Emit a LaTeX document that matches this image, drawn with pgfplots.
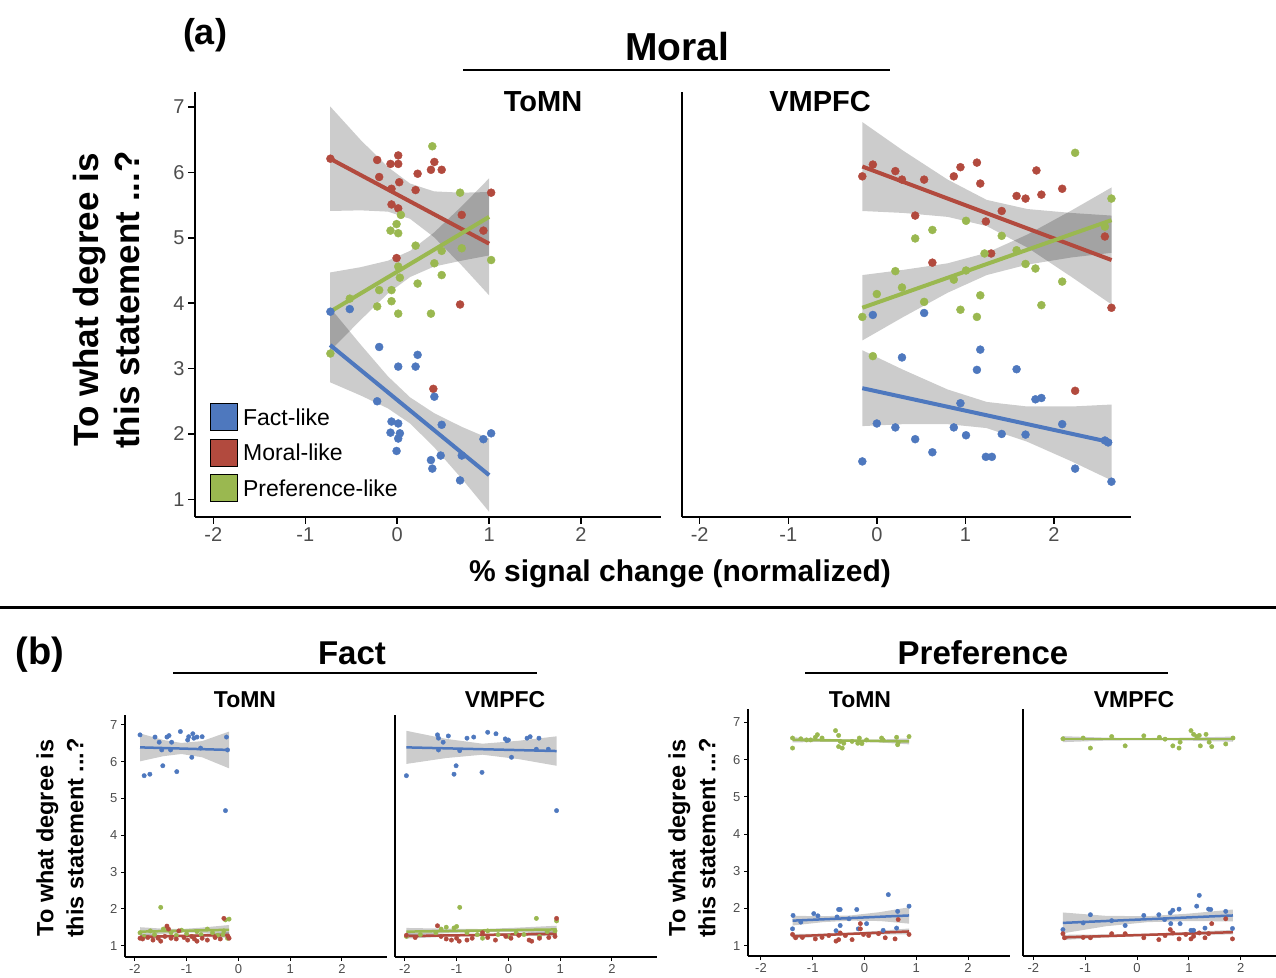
\documentclass[border=0pt]{standalone}
\usepackage{pgfplots}
\pgfplotsset{compat=1.18}
\usepackage{fontspec}
\setmainfont{Liberation Sans}
\definecolor{cb}{RGB}{78,120,190}
\definecolor{cr}{RGB}{178,74,62}
\definecolor{cg}{RGB}{154,184,80}
\definecolor{tk}{RGB}{77,77,77}
\pgfplotsset{
  base/.style={scale only axis, anchor=south west, axis x line*=bottom, axis y line*=left, clip=false,
    xtick={-2,-1,0,1,2}, xticklabels={-2,-1,0,1,2}, ytick={1,2,3,4,5,6,7}, yticklabels={1,2,3,4,5,6,7},
    tick align=outside},
  bigA/.style={base, axis line style={line width=2.5pt,black}, tick style={line width=1.5pt,black},
    major tick length=7pt, ticklabel style={font=\fontsize{20}{20}\selectfont, text=tk},
    xmin=-2.2, xmax=2.87, ymin=0.73, ymax=7.23, height=425pt},
  smallB/.style={base, axis line style={line width=1.5pt,black}, tick style={line width=1pt,black},
    major tick length=4pt, ticklabel style={font=\fontsize{13}{13}\selectfont, text=tk}},
  pts/.style={only marks, mark=*, mark size=4pt, color=#1, mark options={solid, fill=#1, draw=#1}, forget plot},
  ptsb/.style={only marks, mark=*, mark size=2.2pt, color=#1, mark options={solid, fill=#1, draw=#1}, forget plot},
  band/.style={draw=none, fill=black, fill opacity=0.2, forget plot},
  fitA/.style={line width=4pt, color=#1, no marks, forget plot},
  fitB/.style={line width=2.5pt, color=#1, no marks, forget plot},
}
\begin{document}
\begin{tikzpicture}
\path[use as bounding box] (0pt,0pt) rectangle (1276pt,977pt);
%================ (a) ToMN
\begin{axis}[bigA, at={(195pt,460pt)}, width=466pt,
  legend image code/.code={\fill[#1] (0pt,-12.5pt) rectangle (27pt,14.5pt);},
  legend style={at={(axis cs:-2.04,2.47)}, anchor=north west, draw=none, fill=none,
    inner sep=0pt, outer sep=0pt, row sep=8pt, column sep=6pt,
    font=\fontsize{23}{23}\selectfont, nodes={inner sep=0pt, outer sep=0pt}},
  legend cell align=left]
\addplot[pts=cr] coordinates {(-0.727,6.21)(-0.218,6.19)(-0.196,5.93)(-0.073,6.13)(0.011,6.26)(0.011,6.13)(0.022,5.85)(-0.062,5.75)(0.2,5.73)(0.222,5.98)(0.367,6.04)(0.404,6.16)(0.484,6.04)(-0.062,5.51)(0.011,5.45)(0.702,5.35)(0.938,5.11)(1.022,5.69)(-0.007,4.69)(0.684,3.98)(0.393,2.69)};
\addplot[pts=cg] coordinates {(0.382,6.40)(0.684,5.69)(0.04,5.35)(-0.007,5.21)(-0.073,5.11)(0.011,5.07)(0.2,4.88)(0.484,4.80)(0.702,4.84)(0.404,4.61)(1.022,4.66)(0.011,4.56)(0.029,4.39)(0.484,4.43)(0.222,4.30)(-0.196,4.20)(-0.062,4.20)(-0.516,4.07)(-0.062,4.03)(-0.218,3.95)(0.011,3.84)(0.367,3.84)(-0.727,3.23)};
\addplot[pts=cb] coordinates {(-0.727,3.87)(-0.516,3.91)(-0.196,3.33)(0.222,3.21)(0.011,3.03)(0.2,3.03)(0.404,2.57)(-0.218,2.50)(-0.062,2.19)(0.011,2.16)(-0.073,2.02)(0.029,2.01)(0.011,1.93)(0.484,2.14)(-0.007,1.74)(0.367,1.60)(0.382,1.47)(0.473,1.67)(0.702,1.67)(0.684,1.29)(0.938,1.92)(1.022,2.01)};
\addplot[band] coordinates {(-0.73,7.01)(-0.4,6.50)(-0.1,6.08)(0.14,5.83)(0.4,5.71)(0.7,5.69)(1.0,5.70)(1.0,4.12)(0.7,4.58)(0.4,5.01)(0.14,5.29)(-0.1,5.40)(-0.4,5.42)(-0.73,5.41)};
\addplot[band] coordinates {(-0.73,4.47)(-0.4,4.55)(-0.1,4.65)(0.14,4.80)(0.4,5.08)(0.7,5.48)(1.0,5.91)(1.0,4.73)(0.7,4.65)(0.4,4.56)(0.14,4.40)(-0.1,4.15)(-0.4,3.74)(-0.73,3.27)};
\addplot[band] coordinates {(-0.73,3.93)(-0.4,3.37)(-0.1,2.88)(0.14,2.56)(0.4,2.32)(0.7,2.11)(1.0,1.93)(1.0,0.81)(0.7,1.32)(0.4,1.80)(0.14,2.16)(-0.1,2.39)(-0.4,2.59)(-0.73,2.79)};
\addplot[fitA=cr] coordinates {(-0.73,6.21)(1.0,4.91)};
\addplot[fitA=cg] coordinates {(-0.73,3.87)(1.0,5.32)};
\addplot[fitA=cb] coordinates {(-0.73,3.36)(1.0,1.37)};
\addlegendimage{fill=cb}
\addlegendimage{fill=cr}
\addlegendimage{fill=cg}
\legend{Fact-like,Moral-like,Preference-like}
\end{axis}
%================ (a) VMPFC
\begin{axis}[bigA, at={(682pt,460pt)}, width=449pt, ytick=\empty]
\addplot[pts=cr] coordinates {(-0.164,5.94)(-0.045,6.12)(0.209,6.02)(0.284,5.89)(0.534,5.89)(0.433,5.34)(0.627,4.62)(0.869,5.94)(0.944,6.08)(1.13,6.15)(1.168,5.83)(1.231,5.25)(1.291,4.76)(1.41,5.41)(1.578,5.64)(1.679,5.60)(1.802,6.03)(1.858,5.66)(2.093,5.75)(2.575,5.02)(2.649,3.93)(2.239,2.66)};
\addplot[pts=cg] coordinates {(2.239,6.30)(2.649,5.60)(2.575,5.17)(1.007,5.26)(0.627,5.12)(0.433,4.99)(1.41,5.03)(1.216,4.76)(1.578,4.81)(1.679,4.60)(1.791,4.53)(1.007,4.50)(0.869,4.36)(0.209,4.49)(0.284,4.24)(0,4.14)(0.534,4.02)(1.168,4.12)(0.944,3.90)(1.858,3.97)(1.13,3.79)(-0.164,3.79)(2.093,4.33)(-0.045,3.19)};
\addplot[pts=cb] coordinates {(-0.045,3.82)(0.534,3.85)(1.168,3.29)(1.13,2.98)(1.578,2.99)(0.284,3.17)(1.791,2.53)(1.858,2.55)(0.944,2.47)(2.093,2.15)(0,2.16)(0.209,2.10)(0.869,2.10)(0.433,1.92)(1.007,1.98)(1.41,2.00)(1.679,1.99)(0.627,1.72)(1.231,1.65)(1.299,1.65)(2.575,1.90)(2.612,1.87)(-0.164,1.58)(2.239,1.47)(2.649,1.27)};
\addplot[band] coordinates {(-0.164,6.77)(0.3,6.33)(0.8,5.89)(1.24,5.58)(1.7,5.44)(2.2,5.38)(2.65,5.34)(2.65,3.98)(2.2,4.40)(1.7,4.85)(1.24,5.18)(0.8,5.32)(0.3,5.38)(-0.164,5.41)};
\addplot[band] coordinates {(-0.164,4.43)(0.3,4.51)(0.8,4.61)(1.24,4.77)(1.7,5.05)(2.2,5.42)(2.65,5.77)(2.65,4.77)(2.2,4.70)(1.7,4.59)(1.24,4.43)(0.8,4.16)(0.3,3.79)(-0.164,3.43)};
\addplot[band] coordinates {(-0.164,3.28)(0.3,2.98)(0.8,2.68)(1.24,2.49)(1.7,2.42)(2.2,2.42)(2.65,2.45)(2.65,1.29)(2.2,1.58)(1.7,1.88)(1.24,2.09)(0.8,2.15)(0.3,2.15)(-0.164,2.12)};
\addplot[fitA=cr] coordinates {(-0.164,6.09)(2.65,4.66)};
\addplot[fitA=cg] coordinates {(-0.164,3.93)(2.65,5.27)};
\addplot[fitA=cb] coordinates {(-0.164,2.70)(2.65,1.87)};
\end{axis}
%================ (b) Fact ToMN
\begin{axis}[smallB, at={(125pt,20pt)}, width=262pt, height=242pt, xmin=-2.19, xmax=2.87, ymin=0.69, ymax=7.27]
\addplot[ptsb=cb] coordinates {(-1.90,6.73)(-1.82,5.62)(-1.71,5.66)(-1.61,6.67)(-1.53,6.53)(-1.48,6.32)(-1.46,5.89)(-1.38,6.67)(-1.34,6.71)(-1.31,6.32)(-1.29,6.53)(-1.19,5.73)(-1.12,6.82)(-0.98,6.59)(-0.96,6.68)(-0.88,6.76)(-0.86,6.64)(-0.90,6.12)(-0.80,6.67)(-0.70,6.68)(-0.23,6.67)(-0.21,6.32)(-0.25,4.67)(-0.73,6.37)};
\addplot[ptsb=cg] coordinates {(-1.9,1.35)(-1.82,1.25)(-1.7,1.4)(-1.62,1.3)(-1.5,2.04)(-1.45,1.45)(-1.38,1.5)(-1.3,1.35)(-1.2,1.28)(-1.1,1.42)(-1.0,1.32)(-0.9,1.25)(-0.8,1.38)(-0.72,1.3)(-0.6,1.45)(-0.5,1.35)(-0.4,1.28)(-0.3,1.3)(-0.25,1.7)(-0.18,1.72)(-0.21,1.2)(-0.28,1.4)};
\addplot[ptsb=cr] coordinates {(-1.9,1.2)(-1.85,1.18)(-1.75,1.22)(-1.65,1.15)(-1.55,1.2)(-1.5,1.12)(-1.42,1.25)(-1.38,1.53)(-1.35,1.45)(-1.3,1.2)(-1.2,1.18)(-1.15,1.4)(-1.05,1.22)(-0.98,1.15)(-0.9,1.25)(-0.85,1.18)(-0.8,1.12)(-0.7,1.2)(-0.6,1.15)(-0.45,1.22)(-0.35,1.18)(-0.28,1.74)(-0.2,1.25)(-0.18,1.2)};
\addplot[band] coordinates {(-1.9,6.77)(-1.45,6.59)(-1.1,6.51)(-0.7,6.56)(-0.18,6.82)(-0.18,5.82)(-0.7,6.12)(-1.1,6.21)(-1.45,6.15)(-1.9,6.01)};
\addplot[band] coordinates {(-1.9,1.50)(-1.45,1.46)(-1.1,1.45)(-0.7,1.49)(-0.18,1.56)(-0.18,1.30)(-0.7,1.35)(-1.1,1.35)(-1.45,1.32)(-1.9,1.26)};
\addplot[band] coordinates {(-1.9,1.31)(-1.45,1.29)(-1.1,1.29)(-0.7,1.32)(-0.18,1.37)(-0.18,1.21)(-0.7,1.24)(-1.1,1.23)(-1.45,1.21)(-1.9,1.17)};
\addplot[fitB=cb] coordinates {(-1.9,6.39)(-0.18,6.32)};
\addplot[fitB=cg] coordinates {(-1.9,1.38)(-0.18,1.43)};
\addplot[fitB=cr] coordinates {(-1.9,1.24)(-0.18,1.29)};
\end{axis}
%================ (b) Fact VMPFC
\begin{axis}[smallB, at={(395pt,20pt)}, width=262pt, height=242pt, xmin=-2.19, xmax=2.87, ymin=0.69, ymax=7.27, ytick=\empty]
\addplot[ptsb=cb] coordinates {(-1.97,5.62)(-1.37,6.73)(-1.35,6.64)(-1.35,6.32)(-1.26,6.53)(-1.16,6.70)(-1.01,5.89)(-1.05,5.66)(-0.94,6.30)(-0.80,6.64)(-0.67,6.67)(-0.51,5.71)(-0.40,6.80)(-0.24,6.76)(-0.06,6.62)(-0.03,6.57)(0.06,6.12)(0.36,6.64)(0.42,6.68)(0.59,6.64)(0.54,6.34)(0.77,6.34)(0.93,4.67)(0,6.59)};
\addplot[ptsb=cg] coordinates {(-1.97,1.25)(-1.7,1.3)(-1.4,1.35)(-1.3,1.45)(-1.2,1.5)(-1.05,1.48)(-1.0,1.52)(-0.94,2.04)(-0.8,1.35)(-0.6,1.3)(-0.4,1.4)(-0.2,1.3)(0,1.25)(0.15,1.35)(0.3,1.3)(0.54,1.74)(0.6,1.25)(0.75,1.38)(0.93,1.67)(0.9,1.4)(-0.5,1.2)};
\addplot[ptsb=cr] coordinates {(-1.97,1.28)(-1.8,1.22)(-1.37,1.54)(-1.3,1.25)(-1.2,1.18)(-1.1,1.15)(-1.0,1.2)(-0.95,1.12)(-0.8,1.15)(-0.7,1.2)(-0.5,1.35)(-0.4,1.22)(-0.25,1.15)(-0.05,1.25)(0.05,1.2)(0.2,1.28)(0.4,1.15)(0.45,1.12)(0.6,1.2)(0.78,1.22)(0.93,1.74)(0.9,1.25)};
\addplot[band] coordinates {(-1.97,6.84)(-1.2,6.62)(-0.5,6.49)(0.2,6.57)(0.93,6.69)(0.93,5.89)(0.2,6.07)(-0.5,6.19)(-1.2,6.10)(-1.97,5.94)};
\addplot[band] coordinates {(-1.97,1.48)(-1.2,1.46)(-0.5,1.45)(0.2,1.49)(0.93,1.54)(0.93,1.34)(0.2,1.37)(-0.5,1.37)(-1.2,1.34)(-1.97,1.28)};
\addplot[band] coordinates {(-1.97,1.33)(-1.2,1.32)(-0.5,1.32)(0.2,1.35)(0.93,1.39)(0.93,1.25)(0.2,1.27)(-0.5,1.26)(-1.2,1.24)(-1.97,1.19)};
\addplot[fitB=cb] coordinates {(-1.97,6.39)(0.93,6.29)};
\addplot[fitB=cg] coordinates {(-1.97,1.38)(0.93,1.44)};
\addplot[fitB=cr] coordinates {(-1.97,1.26)(0.93,1.32)};
\end{axis}
%================ (b) Preference ToMN
\begin{axis}[smallB, at={(748pt,21pt)}, width=262pt, height=246.6pt, xmin=-2.25, xmax=2.81, ymin=0.72, ymax=7.35]
\addplot[ptsb=cg] coordinates {(-1.39,6.58)(-1.39,6.31)(-1.23,6.56)(-1.12,6.53)(-0.95,6.60)(-0.91,6.67)(-0.56,6.78)(-0.50,6.65)(-0.50,6.35)(-0.47,6.49)(-0.43,6.31)(-0.40,6.44)(-0.24,6.49)(-0.13,6.44)(-0.10,6.58)(-0.05,6.43)(0.04,6.53)(0.33,6.58)(0.36,6.53)(0.62,6.60)(0.65,6.46)(0.64,6.40)(0.86,6.62)(-1.04,6.53)(-0.82,6.58)};
\addplot[ptsb=cb] coordinates {(0.46,2.37)(0.86,2.06)(-0.5,1.97)(-0.47,1.97)(-0.15,1.97)(-0.98,1.86)(-1.38,1.81)(0.64,1.92)(-0.53,1.77)(-1.23,1.63)(0.04,1.59)(-0.47,1.54)(-0.12,1.45)(0.62,1.47)(-0.55,1.40)(-1.39,1.45)(0.36,1.41)(-0.9,1.80)(-0.3,1.72)};
\addplot[ptsb=cr] coordinates {(-1.39,1.30)(-1.33,1.21)(-1.20,1.22)(-0.95,1.18)(-0.69,1.27)(-0.55,1.12)(-0.5,1.16)(-0.47,1.34)(-0.37,1.27)(-0.24,1.16)(-0.08,1.59)(-0.08,1.45)(-0.02,1.30)(0.08,1.27)(0.27,1.32)(0.40,1.21)(0.59,1.18)(0.65,1.70)(0.86,1.30)(-0.82,1.22)};
\addplot[band] coordinates {(-1.39,6.60)(-0.8,6.56)(-0.27,6.54)(0.3,6.54)(0.86,6.57)(0.86,6.41)(0.3,6.46)(-0.27,6.48)(-0.8,6.48)(-1.39,6.46)};
\addplot[band] coordinates {(-1.39,1.80)(-0.8,1.79)(-0.27,1.81)(0.3,1.90)(0.86,2.03)(0.86,1.59)(0.3,1.66)(-0.27,1.67)(-0.8,1.63)(-1.39,1.54)};
\addplot[band] coordinates {(-1.39,1.31)(-0.8,1.32)(-0.27,1.35)(0.3,1.40)(0.86,1.46)(0.86,1.30)(0.3,1.30)(-0.27,1.29)(-0.8,1.24)(-1.39,1.19)};
\addplot[fitB=cg] coordinates {(-1.39,6.53)(0.86,6.49)};
\addplot[fitB=cb] coordinates {(-1.39,1.67)(0.86,1.81)};
\addplot[fitB=cr] coordinates {(-1.39,1.25)(0.86,1.38)};
\end{axis}
%================ (b) Preference VMPFC
\begin{axis}[smallB, at={(1023pt,21pt)}, width=253pt, height=246.6pt, xmin=-2.2, xmax=2.68, ymin=0.72, ymax=7.35, ytick=\empty]
\addplot[ptsb=cg] coordinates {(-1.43,6.56)(-1.04,6.58)(-0.90,6.31)(-0.49,6.62)(-0.23,6.37)(0.13,6.64)(0.43,6.60)(0.54,6.55)(0.69,6.37)(0.81,6.31)(0.83,6.47)(1.04,6.78)(1.09,6.68)(1.15,6.62)(1.20,6.65)(1.33,6.68)(1.22,6.37)(1.39,6.47)(1.44,6.35)(1.71,6.42)(1.85,6.58)};
\addplot[ptsb=cb] coordinates {(1.20,2.35)(1.15,2.06)(0.81,1.98)(0.69,1.95)(0.64,1.88)(0.42,1.83)(0.13,1.81)(1.38,1.98)(1.42,1.97)(1.71,1.92)(-0.90,1.83)(-1.04,1.61)(-0.49,1.67)(-0.23,1.54)(0.65,1.59)(0.83,1.59)(1.04,1.41)(1.09,1.41)(1.31,1.47)(1.84,1.46)(-1.43,1.43)(0.53,1.70)};
\addplot[ptsb=cr] coordinates {(-1.43,1.32)(-1.40,1.21)(-1.04,1.22)(-0.90,1.21)(-0.49,1.32)(-0.23,1.32)(0.13,1.21)(0.42,1.16)(0.54,1.27)(0.64,1.43)(0.69,1.34)(0.81,1.18)(1.04,1.18)(1.09,1.25)(1.20,1.34)(1.31,1.21)(1.38,1.32)(1.44,1.59)(1.71,1.72)(1.84,1.18)(0.94,1.30)};
\addplot[band] coordinates {(-1.43,6.63)(-0.6,6.59)(0.2,6.58)(1.0,6.59)(1.85,6.62)(1.85,6.48)(1.0,6.51)(0.2,6.52)(-0.6,6.51)(-1.43,6.47)};
\addplot[band] coordinates {(-1.43,1.89)(-0.6,1.80)(0.2,1.79)(1.0,1.86)(1.85,1.97)(1.85,1.65)(1.0,1.66)(0.2,1.63)(-0.6,1.52)(-1.43,1.33)};
\addplot[band] coordinates {(-1.43,1.29)(-0.6,1.30)(0.2,1.32)(1.0,1.37)(1.85,1.42)(1.85,1.30)(1.0,1.29)(0.2,1.26)(-0.6,1.22)(-1.43,1.15)};
\addplot[fitB=cg] coordinates {(-1.43,6.55)(1.85,6.55)};
\addplot[fitB=cb] coordinates {(-1.43,1.61)(1.85,1.81)};
\addplot[fitB=cr] coordinates {(-1.43,1.22)(1.85,1.36)};
\end{axis}
%================ texts
\node[font=\fontsize{36}{36}\selectfont\bfseries] at (205pt,942pt) {(a)};
\node[font=\fontsize{39}{39}\selectfont\bfseries] at (677pt,930pt) {Moral};
\draw[line width=2pt] (463pt,907pt) -- (890pt,907pt);
\node[font=\fontsize{29}{29}\selectfont\bfseries] at (543pt,875pt) {ToMN};
\node[font=\fontsize{29}{29}\selectfont\bfseries] at (820pt,875pt) {VMPFC};
\node[font=\fontsize{30}{30}\selectfont\bfseries, anchor=base] at (680pt,395pt) {\% signal change (normalized)};
\node[font=\fontsize{35}{41}\selectfont\bfseries, rotate=90, align=center] at (106pt,677pt) {To what degree is\\this statement ...?};
\draw[line width=3pt] (0pt,369pt) -- (1276pt,369pt);
\node[font=\fontsize{38}{38}\selectfont\bfseries] at (40pt,322pt) {(b)};
\node[font=\fontsize{33}{33}\selectfont\bfseries] at (352pt,324pt) {Fact};
\draw[line width=2pt] (173pt,304pt) -- (537pt,304pt);
\node[font=\fontsize{33}{33}\selectfont\bfseries] at (983pt,324pt) {Preference};
\draw[line width=2pt] (805pt,304pt) -- (1168pt,304pt);
\node[font=\fontsize{23}{23}\selectfont\bfseries] at (245pt,277pt) {ToMN};
\node[font=\fontsize{23}{23}\selectfont\bfseries] at (505pt,277pt) {VMPFC};
\node[font=\fontsize{23}{23}\selectfont\bfseries] at (860pt,277pt) {ToMN};
\node[font=\fontsize{23}{23}\selectfont\bfseries] at (1134pt,277pt) {VMPFC};
\node[font=\fontsize{23.5}{30}\selectfont\bfseries, rotate=90, align=center] at (60pt,139pt) {To what degree is\\this statement ...?};
\node[font=\fontsize{23.5}{30}\selectfont\bfseries, rotate=90, align=center] at (692pt,139pt) {To what degree is\\this statement ...?};
\end{tikzpicture}
\end{document}
